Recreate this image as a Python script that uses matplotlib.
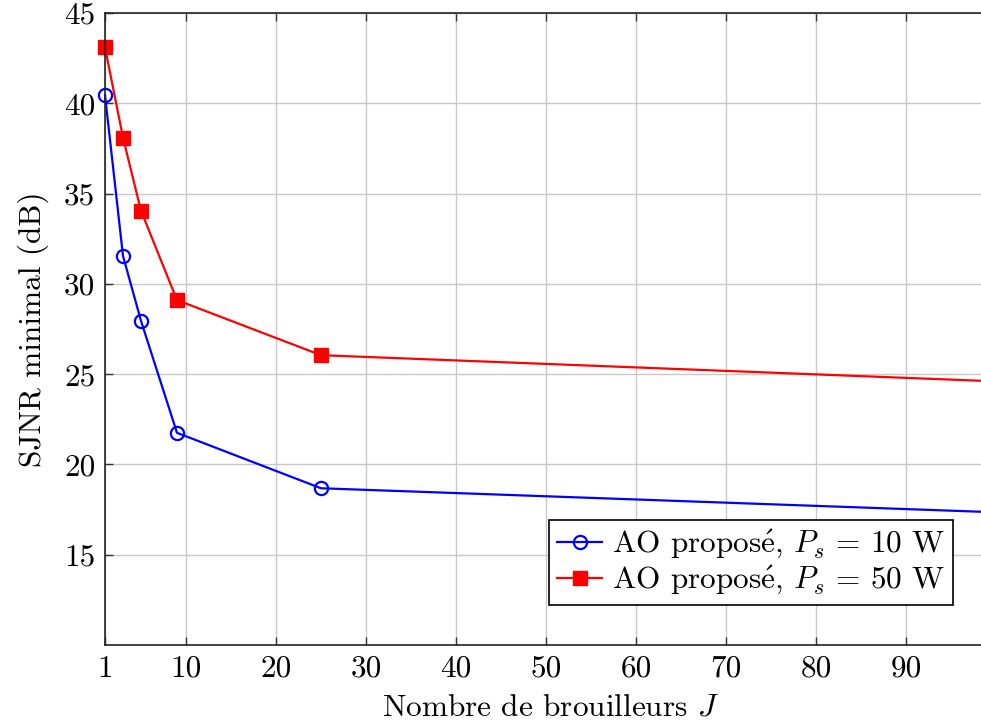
import matplotlib
matplotlib.use("Agg")
import matplotlib.pyplot as plt

plt.rcParams['font.family'] = ['cmr10', 'DejaVu Serif']
plt.rcParams['mathtext.fontset'] = 'cm'
plt.rcParams['axes.formatter.use_mathtext'] = True

# Number of jammers and minimal SJNR (dB)
jammers = [1, 3, 5, 9, 25, 100]
sjnr_10w = [40.45, 31.55, 27.95, 21.75, 18.68, 17.35]
sjnr_50w = [43.1, 38.1, 34.05, 29.1, 26.05, 24.6]

xticks = [1, 10, 20, 30, 40, 50, 60, 70, 80, 90]
yticks = [15, 20, 25, 30, 35, 40, 45]

label_10w = r'AO propos$\mathrm{\acute{e}}$, $P_s\,=\,10$ W'
label_50w = r'AO propos$\mathrm{\acute{e}}$, $P_s\,=\,50$ W'

fs = 22.5

fig = plt.figure(figsize=(9.81, 7.25), dpi=100)
ax = fig.add_axes([105 / 981, 80 / 725, 891 / 981, 632 / 725])

ax.plot(jammers, sjnr_10w, color='#0000ff', lw=1.6, marker='o', ms=9.5,
        mfc='none', mec='#0000ff', mew=1.6, clip_on=False, label=label_10w)
ax.plot(jammers, sjnr_50w, color='#ff0000', lw=1.6, marker='s', ms=10,
        mfc='#ff0000', mec='#ff0000', clip_on=False, label=label_50w)

ax.set_xlim(1, 100)
ax.set_ylim(10, 45)
ax.set_xticks(xticks)
ax.set_yticks(yticks)
ax.set_xticklabels([str(v) for v in xticks])
ax.set_yticklabels([str(v) for v in yticks])
ax.tick_params(direction='in', length=6, width=1, colors='#333333',
               labelcolor='black', labelsize=fs, top=True, right=True, pad=7)
ax.grid(True, color='#c8c8c8', lw=1)
ax.set_axisbelow(True)
for s in ax.spines.values():
    s.set_color('#222222')
    s.set_linewidth(1.2)

ax.set_xlabel(r'Nombre de brouilleurs $J$', fontsize=fs, labelpad=8)
ax.set_ylabel('SJNR minimal (dB)', fontsize=fs, labelpad=11)

leg = ax.legend(loc='lower right',
                bbox_to_anchor=((953 - 105) / 891, (645 - 605) / 632),
                fontsize=fs, frameon=True, fancybox=False, edgecolor='black',
                framealpha=1, handlelength=1.45, handletextpad=0.3,
                borderpad=0.25, labelspacing=0.1, borderaxespad=0)
leg.get_frame().set_linewidth(1.2)

fig.savefig('out.png', dpi=100)
